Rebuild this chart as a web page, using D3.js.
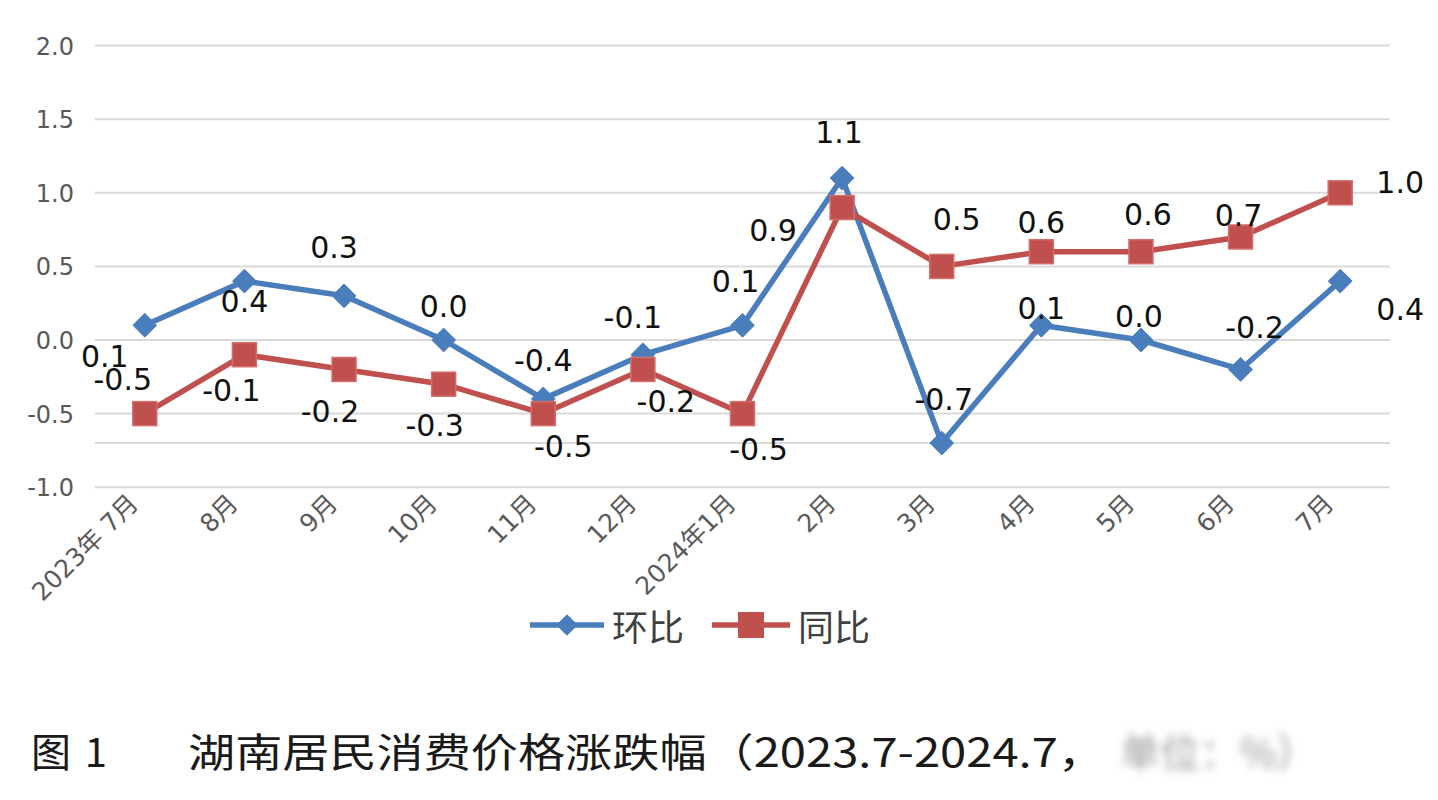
<!DOCTYPE html>
<html><head><meta charset="utf-8">
<script src="https://cdn.jsdelivr.net/npm/d3@7"></script>
<style>
html,body{margin:0;padding:0;background:#fff;}
svg{display:block;}
</style></head>
<body>
<svg id="chart" width="1438" height="800"></svg>
<script>
// ---- data ----
const categories = ["2023年 7月","8月","9月","10月","11月","12月","2024年1月","2月","3月","4月","5月","6月","7月"];
const huanbi = [0.1, 0.4, 0.3, 0.0, -0.4, -0.1, 0.1, 1.1, -0.7, 0.1, 0.0, -0.2, 0.4];     // 环比
const tongbi = [-0.5, -0.1, -0.2, -0.3, -0.5, -0.2, -0.5, 0.9, 0.5, 0.6, 0.6, 0.7, 1.0];   // 同比
const yTicks = [-1.0, -0.5, 0.0, 0.5, 1.0, 1.5, 2.0];
const extraGrid = [-0.7];
const seriesNames = ["环比", "同比"];
const captionLead = "图 1";
const captionMain = "湖南居民消费价格涨跌幅（2023.7-2024.7，";
const captionTail = "单位：%）";

// ---- label placement (layout only) ----
const hbLabelOff = [[-40,41],[0,30],[-10,-38],[0,-24],[0,-28],[-10,-27],[-7,-34],[-3,-36],[2,-34],[0,-7],[-2,-14],[14,-32],[60,38]];
const tbLabelOff = [[-22,-24],[-13,46],[-14,52],[-9,51],[20,43],[23,42],[16,46],[-69,33],[15,-37],[0,-19],[7,-27],[-2,-11],[60,0]];

const svg = d3.select("#chart");
const x = d3.scaleBand().domain(categories).range([95, 1390]).padding(0);
const y = d3.scaleLinear().domain([-1, 2]).range([487.2, 45.6]);
const cx = c => x(c) + x.bandwidth() / 2;
const fmt = d => d.toFixed(1);

const blue = "#4a7dbb", red = "#c0504d";

// gridlines
svg.append("g").selectAll("line").data(yTicks.concat(extraGrid)).join("line")
  .attr("x1", 95).attr("x2", 1390)
  .attr("y1", d => y(d)).attr("y2", d => y(d))
  .attr("stroke", "#d9d9d9").attr("stroke-width", 2);

// y axis labels
const yAxis = d3.axisLeft(y).tickValues(yTicks).tickFormat(fmt).tickSize(0).tickPadding(0);
const gy = svg.append("g").attr("transform", "translate(74,0)").call(yAxis);
gy.select(".domain").remove();
gy.selectAll("text").attr("font-family", "DejaVu Sans").attr("font-size", 24).attr("fill", "#595959").attr("dy", "0.35em");

// x axis labels
const xAxis = d3.axisBottom(x).tickSize(0).tickPadding(0);
const gx = svg.append("g").attr("transform", "translate(0,487)").call(xAxis);
gx.select(".domain").remove();
gx.selectAll(".tick text")
  .attr("font-family", "DejaVu Sans, Noto Sans CJK SC").attr("font-size", 25).attr("fill", "#595959")
  .attr("text-anchor", "end").attr("dy", 0)
  .attr("transform", "translate(-5,18) rotate(-45)");

// lines
const line = d3.line().x((d, i) => cx(categories[i])).y(d => y(d));
svg.append("path").datum(huanbi).attr("d", line).attr("fill", "none").attr("stroke", blue).attr("stroke-width", 5.5).attr("stroke-linejoin", "round");
svg.append("path").datum(tongbi).attr("d", line).attr("fill", "none").attr("stroke", red).attr("stroke-width", 5.5).attr("stroke-linejoin", "round");

// markers
const diamond = d3.symbol().type(d3.symbolDiamond2).size(360);
svg.append("g").selectAll("path").data(huanbi).join("path")
  .attr("d", diamond)
  .attr("transform", (d, i) => `translate(${cx(categories[i])},${y(d)})`)
  .attr("fill", blue).attr("stroke", blue).attr("stroke-width", 1);
svg.append("g").selectAll("rect").data(tongbi).join("rect")
  .attr("x", (d, i) => cx(categories[i]) - 12).attr("y", d => y(d) - 12)
  .attr("width", 24).attr("height", 24)
  .attr("fill", red).attr("stroke", "#d46e6b").attr("stroke-width", 1.5);

// data labels
function labels(data, off) {
  svg.append("g").selectAll("text").data(data).join("text")
    .attr("x", (d, i) => cx(categories[i]) + off[i][0])
    .attr("y", (d, i) => y(d) + off[i][1] - 8)
    .attr("text-anchor", "middle").attr("dominant-baseline", "middle")
    .attr("font-family", "DejaVu Sans").attr("font-size", 30).attr("fill", "#111")
    .text(fmt);
}
labels(tongbi, tbLabelOff);
labels(huanbi, hbLabelOff);

// legend
const lg = svg.append("g").attr("transform", "translate(0,625)");
lg.append("line").attr("x1", 530).attr("x2", 604).attr("y1", 0).attr("y2", 0).attr("stroke", blue).attr("stroke-width", 5.5);
lg.append("path").attr("d", d3.symbol().type(d3.symbolDiamond2).size(300)).attr("transform", "translate(567,0)").attr("fill", blue);
lg.append("text").attr("x", 612).attr("y", 0).attr("dominant-baseline", "central")
  .attr("font-family", "Noto Sans CJK SC").attr("font-size", 36).attr("fill", "#404040").text(seriesNames[0]);
lg.append("line").attr("x1", 712).attr("x2", 790).attr("y1", 0).attr("y2", 0).attr("stroke", red).attr("stroke-width", 5.5);
lg.append("rect").attr("x", 738).attr("y", -13).attr("width", 26).attr("height", 26).attr("fill", red);
lg.append("text").attr("x", 798).attr("y", 0).attr("dominant-baseline", "central")
  .attr("font-family", "Noto Sans CJK SC").attr("font-size", 36).attr("fill", "#404040").text(seriesNames[1]);

// caption
const defs = svg.append("defs");
defs.append("filter").attr("id", "blur").append("feGaussianBlur").attr("stdDeviation", 4);
svg.append("text").attr("x", 31).attr("y", 767)
  .attr("font-family", "Noto Sans CJK SC").attr("font-size", 40).attr("fill", "#1a1a1a")
  .attr("textLength", 76).attr("lengthAdjust", "spacing").text(captionLead);
svg.append("text").attr("x", 188).attr("y", 767)
  .attr("font-family", "Noto Sans CJK SC").attr("font-size", 40).attr("fill", "#1a1a1a")
  .attr("textLength", 917).attr("lengthAdjust", "spacingAndGlyphs").text(captionMain);
svg.append("text").attr("x", 1120).attr("y", 767)
  .attr("font-family", "Noto Sans CJK SC").attr("font-size", 40).attr("fill", "#9a9a9a")
  .attr("filter", "url(#blur)").text(captionTail);
</script>
</body></html>
